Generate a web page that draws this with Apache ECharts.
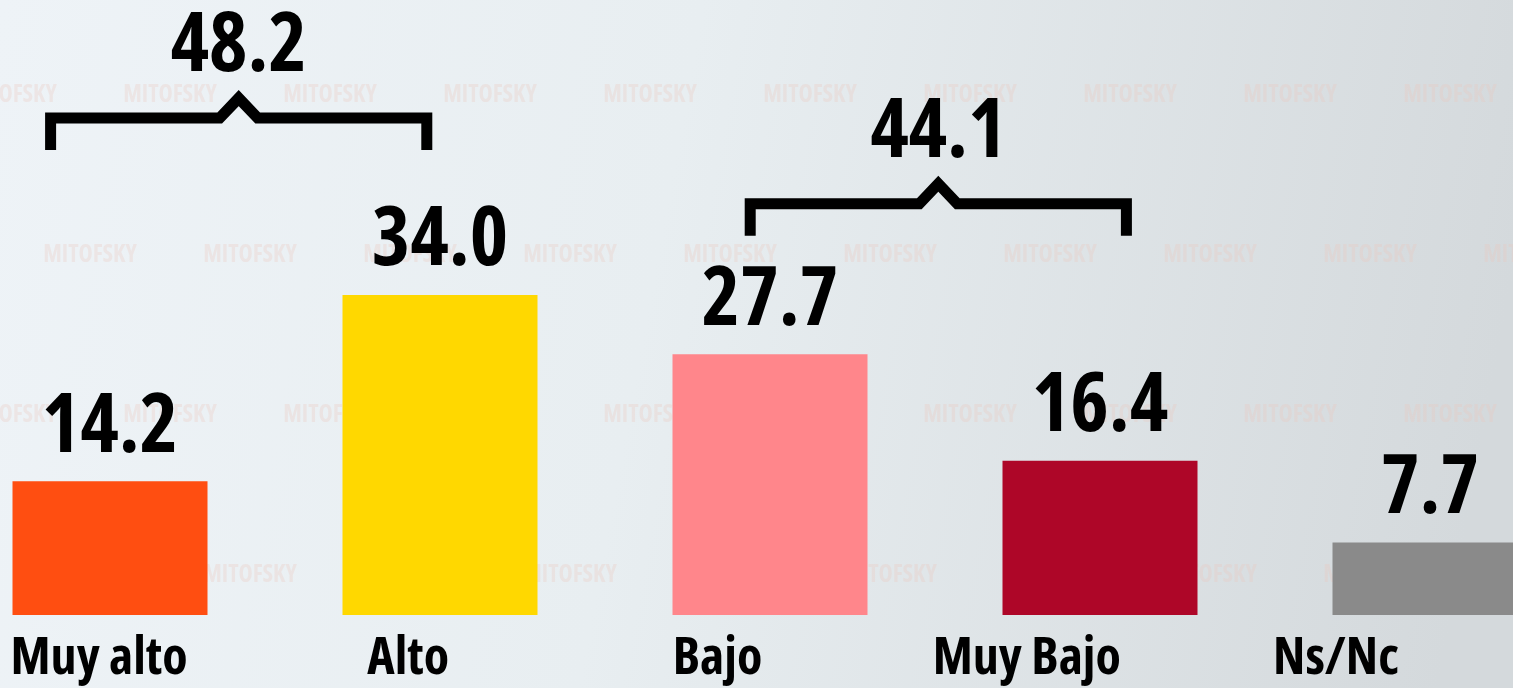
<!DOCTYPE html>
<html>
<head>
<meta charset="utf-8">
<script src="https://cdn.jsdelivr.net/npm/echarts@6/dist/echarts.min.js"></script>
<style>
  html, body { margin: 0; padding: 0; }
  #chart { width: 1513px; height: 688px; }
</style>
</head>
<body>
<div id="chart"></div>
<script>
var categories = ['Muy alto', 'Alto', 'Bajo', 'Muy Bajo', 'Ns/Nc'];
var values = [14.2, 34.0, 27.7, 16.4, 7.7];
var barColors = ['#FF4E11', '#FFD800', '#FF868B', '#AE0628', '#8A8A8A'];

// brackets: which bars are summed, where the bracket starts / ends (bar slots), its height
var bracketGroups = [[0, 1], [2, 3]];
var bracketFrom = [-0.18, 1.94];
var bracketTo = [0.96, 3.08];
var bracketLevel = [52.8, 43.7];

var fontFamily = '"Open Sans", "DejaVu Sans Condensed", sans-serif';
var fontWeight = 'bold condensed';

var bracketData = bracketGroups.map(function (g, i) {
  var total = 0;
  g.forEach(function (k) { total += values[k]; });
  return [bracketFrom[i], bracketTo[i], bracketLevel[i], total.toFixed(1)];
});

// faint watermark
var marks = [];
for (var r = 0; r < 4; r++) {
  for (var c = -1; c < 11; c++) {
    marks.push({
      type: 'text',
      silent: true,
      x: 10 + c * 160 + (r % 2) * 80,
      y: 95 + r * 160,
      style: {
        text: 'MITOFSKY',
        fill: 'rgba(235, 200, 190, 0.3)',
        font: 'bold condensed 24px ' + fontFamily,
        align: 'center',
        verticalAlign: 'middle'
      }
    });
  }
}

var chart = echarts.init(document.getElementById('chart'));

var option = {
  animation: false,
  backgroundColor: {
    type: 'linear', x: 0, y: 0, x2: 1, y2: 0.4,
    colorStops: [
      { offset: 0, color: '#EEF3F7' },
      { offset: 0.45, color: '#E8EEF1' },
      { offset: 1, color: '#D4D9DC' }
    ]
  },
  graphic: marks,
  grid: [
    { left: -55, right: -82, top: 0, bottom: 73, outerBoundsMode: 'none', containLabel: false },
    { left: -55.6, right: 22.4, top: 0, bottom: 73, outerBoundsMode: 'none', containLabel: false }
  ],
  xAxis: [
    {
      type: 'category', gridIndex: 0, data: categories,
      axisLine: { show: false }, axisTick: { show: false }, axisLabel: { show: false }
    },
    {
      type: 'category', gridIndex: 1, data: categories,
      axisLine: { show: false }, axisTick: { show: false },
      axisLabel: {
        interval: 0,
        margin: 18,
        color: '#000',
        fontSize: 52,
        fontWeight: fontWeight,
        fontFamily: fontFamily
      }
    },
    {
      type: 'value', gridIndex: 0, min: -0.5, max: 4.5, show: false
    }
  ],
  yAxis: [
    { type: 'value', gridIndex: 0, min: 0, max: 65.35, show: false },
    { type: 'value', gridIndex: 1, min: 0, max: 65.35, show: false }
  ],
  series: [
    {
      type: 'bar',
      xAxisIndex: 0,
      yAxisIndex: 0,
      barWidth: 195,
      data: values.map(function (v, i) {
        return { value: v, itemStyle: { color: barColors[i] } };
      }),
      label: {
        show: true,
        position: 'top',
        distance: 12,
        color: '#000',
        fontSize: 82,
        fontWeight: fontWeight,
        fontFamily: fontFamily,
        formatter: function (p) { return p.value.toFixed(1); }
      }
    },
    {
      type: 'custom',
      xAxisIndex: 2,
      yAxisIndex: 0,
      clip: false,
      data: bracketData,
      renderItem: function (params, api) {
        var p0 = api.coord([api.value(0), api.value(2)]);
        var p1 = api.coord([api.value(1), api.value(2)]);
        var y = p0[1];
        var mid = (p0[0] + p1[0]) / 2;
        return {
          type: 'group',
          children: [
            {
              type: 'polyline',
              shape: {
                points: [
                  [p0[0], y + 32], [p0[0], y], [mid - 19, y], [mid, y - 20],
                  [mid + 19, y], [p1[0], y], [p1[0], y + 32]
                ]
              },
              style: { stroke: '#000', lineWidth: 11, fill: null, lineJoin: 'miter' }
            },
            {
              type: 'text',
              style: {
                text: bracketData[params.dataIndex][3],
                x: mid,
                y: y - 70,
                fill: '#000',
                font: fontWeight + ' 82px ' + fontFamily,
                align: 'center',
                verticalAlign: 'middle'
              }
            }
          ]
        };
      }
    }
  ]
};

chart.setOption(option);
</script>
</body>
</html>
